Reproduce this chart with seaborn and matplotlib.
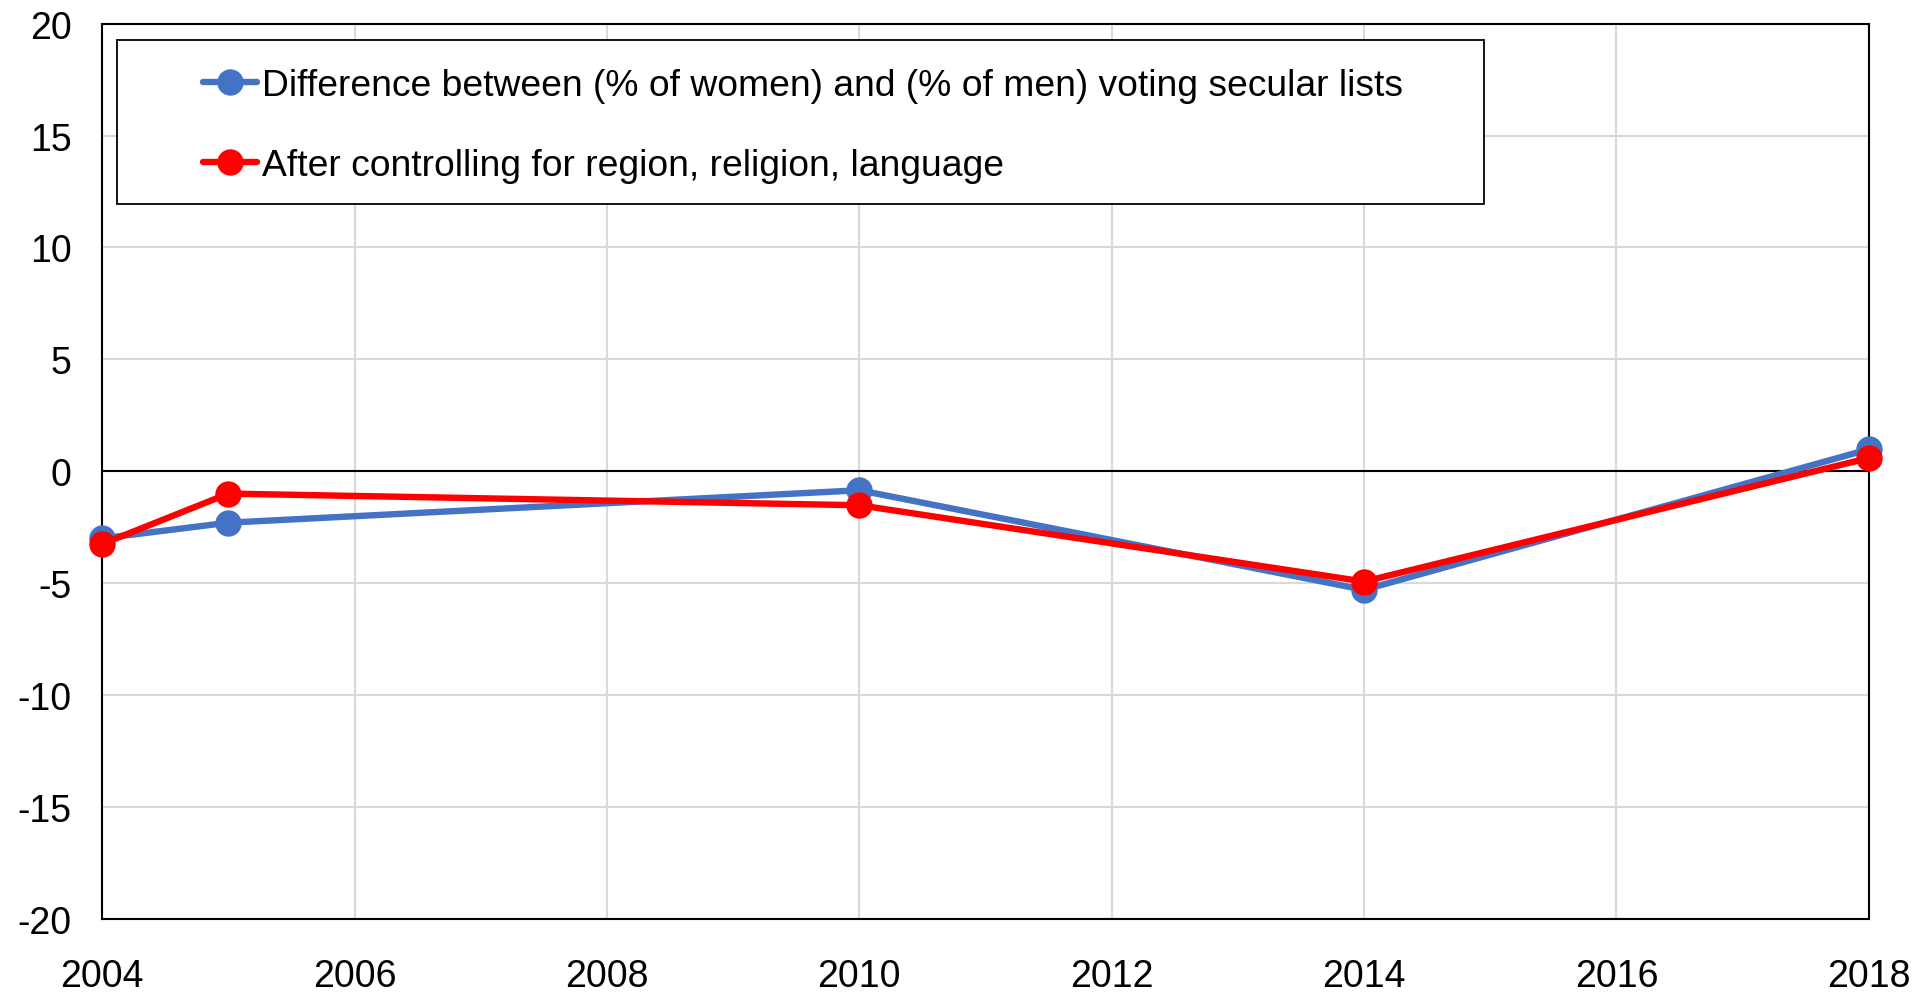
import pandas as pd
import matplotlib
matplotlib.use("Agg")
import matplotlib.pyplot as plt
from matplotlib.patches import Rectangle
import seaborn as sns

# values
years = [2004, 2005, 2010, 2014, 2018]
raw_gap = [-3.0, -2.3, -0.85, -5.3, 0.98]
controlled_gap = [-3.25, -1.0, -1.52, -4.93, 0.59]

label_raw = "Difference between (% of women) and (% of men) voting secular lists"
label_ctrl = "After controlling for region, religion, language"

x_ticks = [2004, 2006, 2008, 2010, 2012, 2014, 2016, 2018]
y_ticks = [-20, -15, -10, -5, 0, 5, 10, 15, 20]

df = pd.DataFrame({
    "year": years * 2,
    "value": raw_gap + controlled_gap,
    "series": [label_raw] * len(years) + [label_ctrl] * len(years),
})

sns.set_theme(style="white")
plt.rcParams["font.family"] = ["Liberation Sans", "DejaVu Sans"]
plt.rcParams["axes.unicode_minus"] = False
plt.rcParams["text.color"] = "black"

fig = plt.figure(figsize=(19.33, 9.95), dpi=100)
ax = fig.add_axes([0.0529, 0.0756, 0.9139, 0.8996])

# grid and zero line
for xt in x_ticks:
    ax.axvline(xt, color="#D9D9D9", lw=1.5, zorder=0)
for yt in y_ticks:
    ax.axhline(yt, color="#D9D9D9", lw=1.5, zorder=0)
ax.axhline(0, color="black", lw=1.5, zorder=1)

sns.lineplot(data=df, x="year", y="value", hue="series",
             hue_order=[label_raw, label_ctrl],
             palette=["#4472C4", "#FF0000"],
             marker="o", markersize=19, markeredgewidth=0,
             linewidth=4.6, ax=ax, zorder=3, legend=False, clip_on=False)

ax.set_xlim(2004, 2018)
ax.set_ylim(-20, 20)
ax.set_xticks(x_ticks)
ax.set_yticks(y_ticks)
ax.set_xlabel("")
ax.set_ylabel("")
ax.tick_params(axis="both", length=0, labelsize=27, colors="black")
ax.tick_params(axis="x", pad=28)
ax.tick_params(axis="y", pad=22)
for s in ax.spines.values():
    s.set_color("black")
    s.set_linewidth(1.5)
    s.set_visible(True)

# legend box like the original
ax.add_patch(Rectangle((0.0084, 0.799), 0.7737, 0.183, transform=ax.transAxes,
                       facecolor="white", edgecolor="black", lw=1.3, zorder=5))
handles = [
    plt.Line2D([], [], color="#4472C4", lw=4.6, marker="o", markersize=19, markeredgewidth=0),
    plt.Line2D([], [], color="#FF0000", lw=4.6, marker="o", markersize=19, markeredgewidth=0),
]
leg = ax.legend(handles, [label_raw, label_ctrl], loc="center left",
                bbox_to_anchor=(0.0572, 0.8865), frameon=False, fontsize=26.8,
                borderpad=0, borderaxespad=0, handlelength=1.45,
                handletextpad=0.12, labelspacing=1.22)
leg.set_zorder(6)
for t in leg.get_texts():
    t.set_color("black")

fig.savefig("out.png", dpi=100)
